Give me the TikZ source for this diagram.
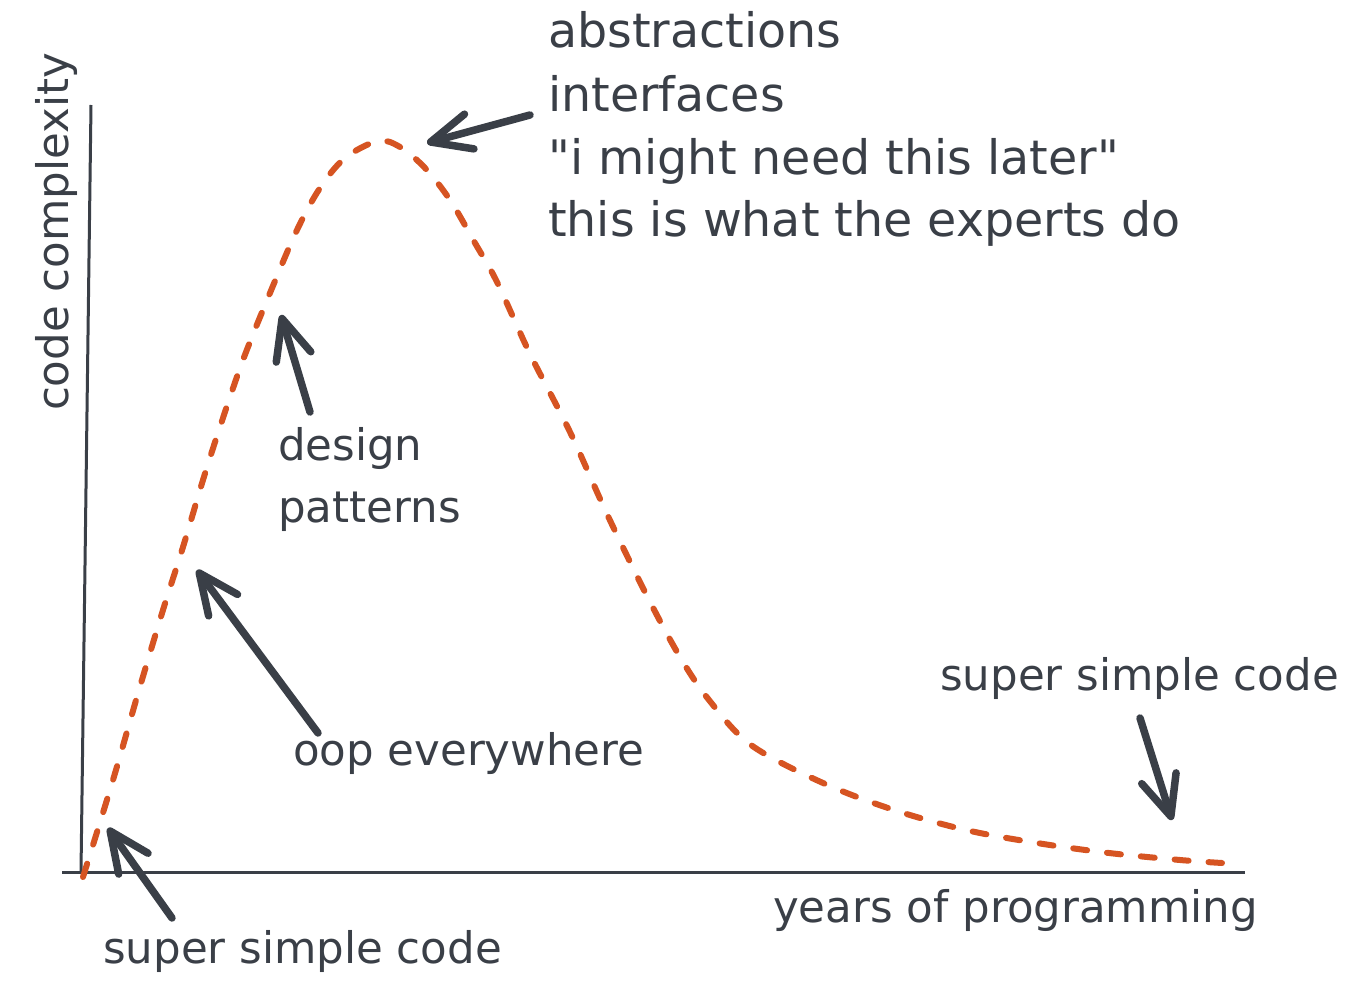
\documentclass[tikz,border=0pt]{standalone}
\usepackage{fontspec}
\setmainfont{DejaVu Sans}[Ligatures=TeXOff]
\usetikzlibrary{arrows.meta}
\definecolor{ink}{RGB}{58,63,71}
\definecolor{trendcol}{RGB}{214,84,34}
\begin{document}
\begin{tikzpicture}[x=1pt,y=-1pt,
  lbl/.style={inner sep=0pt, anchor=base west, text=ink, font=\fontsize{43.5}{52}\selectfont},
  toplbl/.style={lbl, font=\fontsize{47.5}{56}\selectfont},
  axisline/.style={draw=ink, line width=3pt},
  pointer/.style={draw=ink, line width=7.5pt, line cap=round, -{Straight Barb[length=40pt,width=36pt,round]}},
  trend/.style={draw=trendcol, line width=6pt, line cap=round, dash pattern=on 14pt off 20pt}]
\useasboundingbox (0,0) rectangle (1347,984);
\fill[white] (0,0) rectangle (1347,984);

% axes
\coordinate (ytop) at (91,105);
\coordinate (ybot) at (81,872);
\coordinate (xleft) at (62,872);
\coordinate (xright) at (1245,872);
\draw[axisline] (ytop) -- (ybot);
\draw[axisline] (xleft) -- (xright);

% curve
\draw[trend] plot[smooth, tension=0.55] coordinates {
 (83,877) (113,780) (139,690) (163,610) (183,547) (203,480) (220,427)
 (243,360) (270,293) (297,230) (320,188) (345,158) (378,141) (400,147)
 (425,168) (450,200) (475,243) (497,282) (530,354) (570,432) (607,514)
 (647,596) (680,657) (709,700) (751,745) (823,783) (894,810) (966,830)
 (1037,843) (1109,853) (1180,860) (1222,863)};

% labels
\node[toplbl] (abs) at (548,48) {abstractions};
\node[toplbl] (intf) at (548,112) {interfaces};
\node[toplbl] (might) at (548,175) {"i might need this later"};
\node[toplbl] (expert) at (548,237) {this is what the experts do};
\node[lbl] (design) at (278,460) {design};
\node[lbl] (patt) at (278,522) {patterns};
\node[lbl] (oop) at (293,765) {oop everywhere};
\node[lbl] (sscr) at (940,690) {super simple code};
\node[lbl] (sscl) at (103,963) {super simple code};
\node[lbl] (years) at (773,922) {years of programming};
\node[lbl, anchor=base, rotate=90] (ylab) at (68,232) {code complexity};

% pointer arrows
\coordinate (t1) at (172,918); \coordinate (h1) at (108,828);
\coordinate (t2) at (318,733); \coordinate (h2) at (197,570);
\coordinate (t3) at (310,412); \coordinate (h3) at (281,315);
\coordinate (t4) at (530,115); \coordinate (h4) at (427,143);
\coordinate (t5) at (1140,718); \coordinate (h5) at (1172,820);
\draw[pointer] (t1) -- (h1);
\draw[pointer] (t2) -- (h2);
\draw[pointer] (t3) -- (h3);
\draw[pointer] (t4) -- (h4);
\draw[pointer] (t5) -- (h5);
\end{tikzpicture}
\end{document}
